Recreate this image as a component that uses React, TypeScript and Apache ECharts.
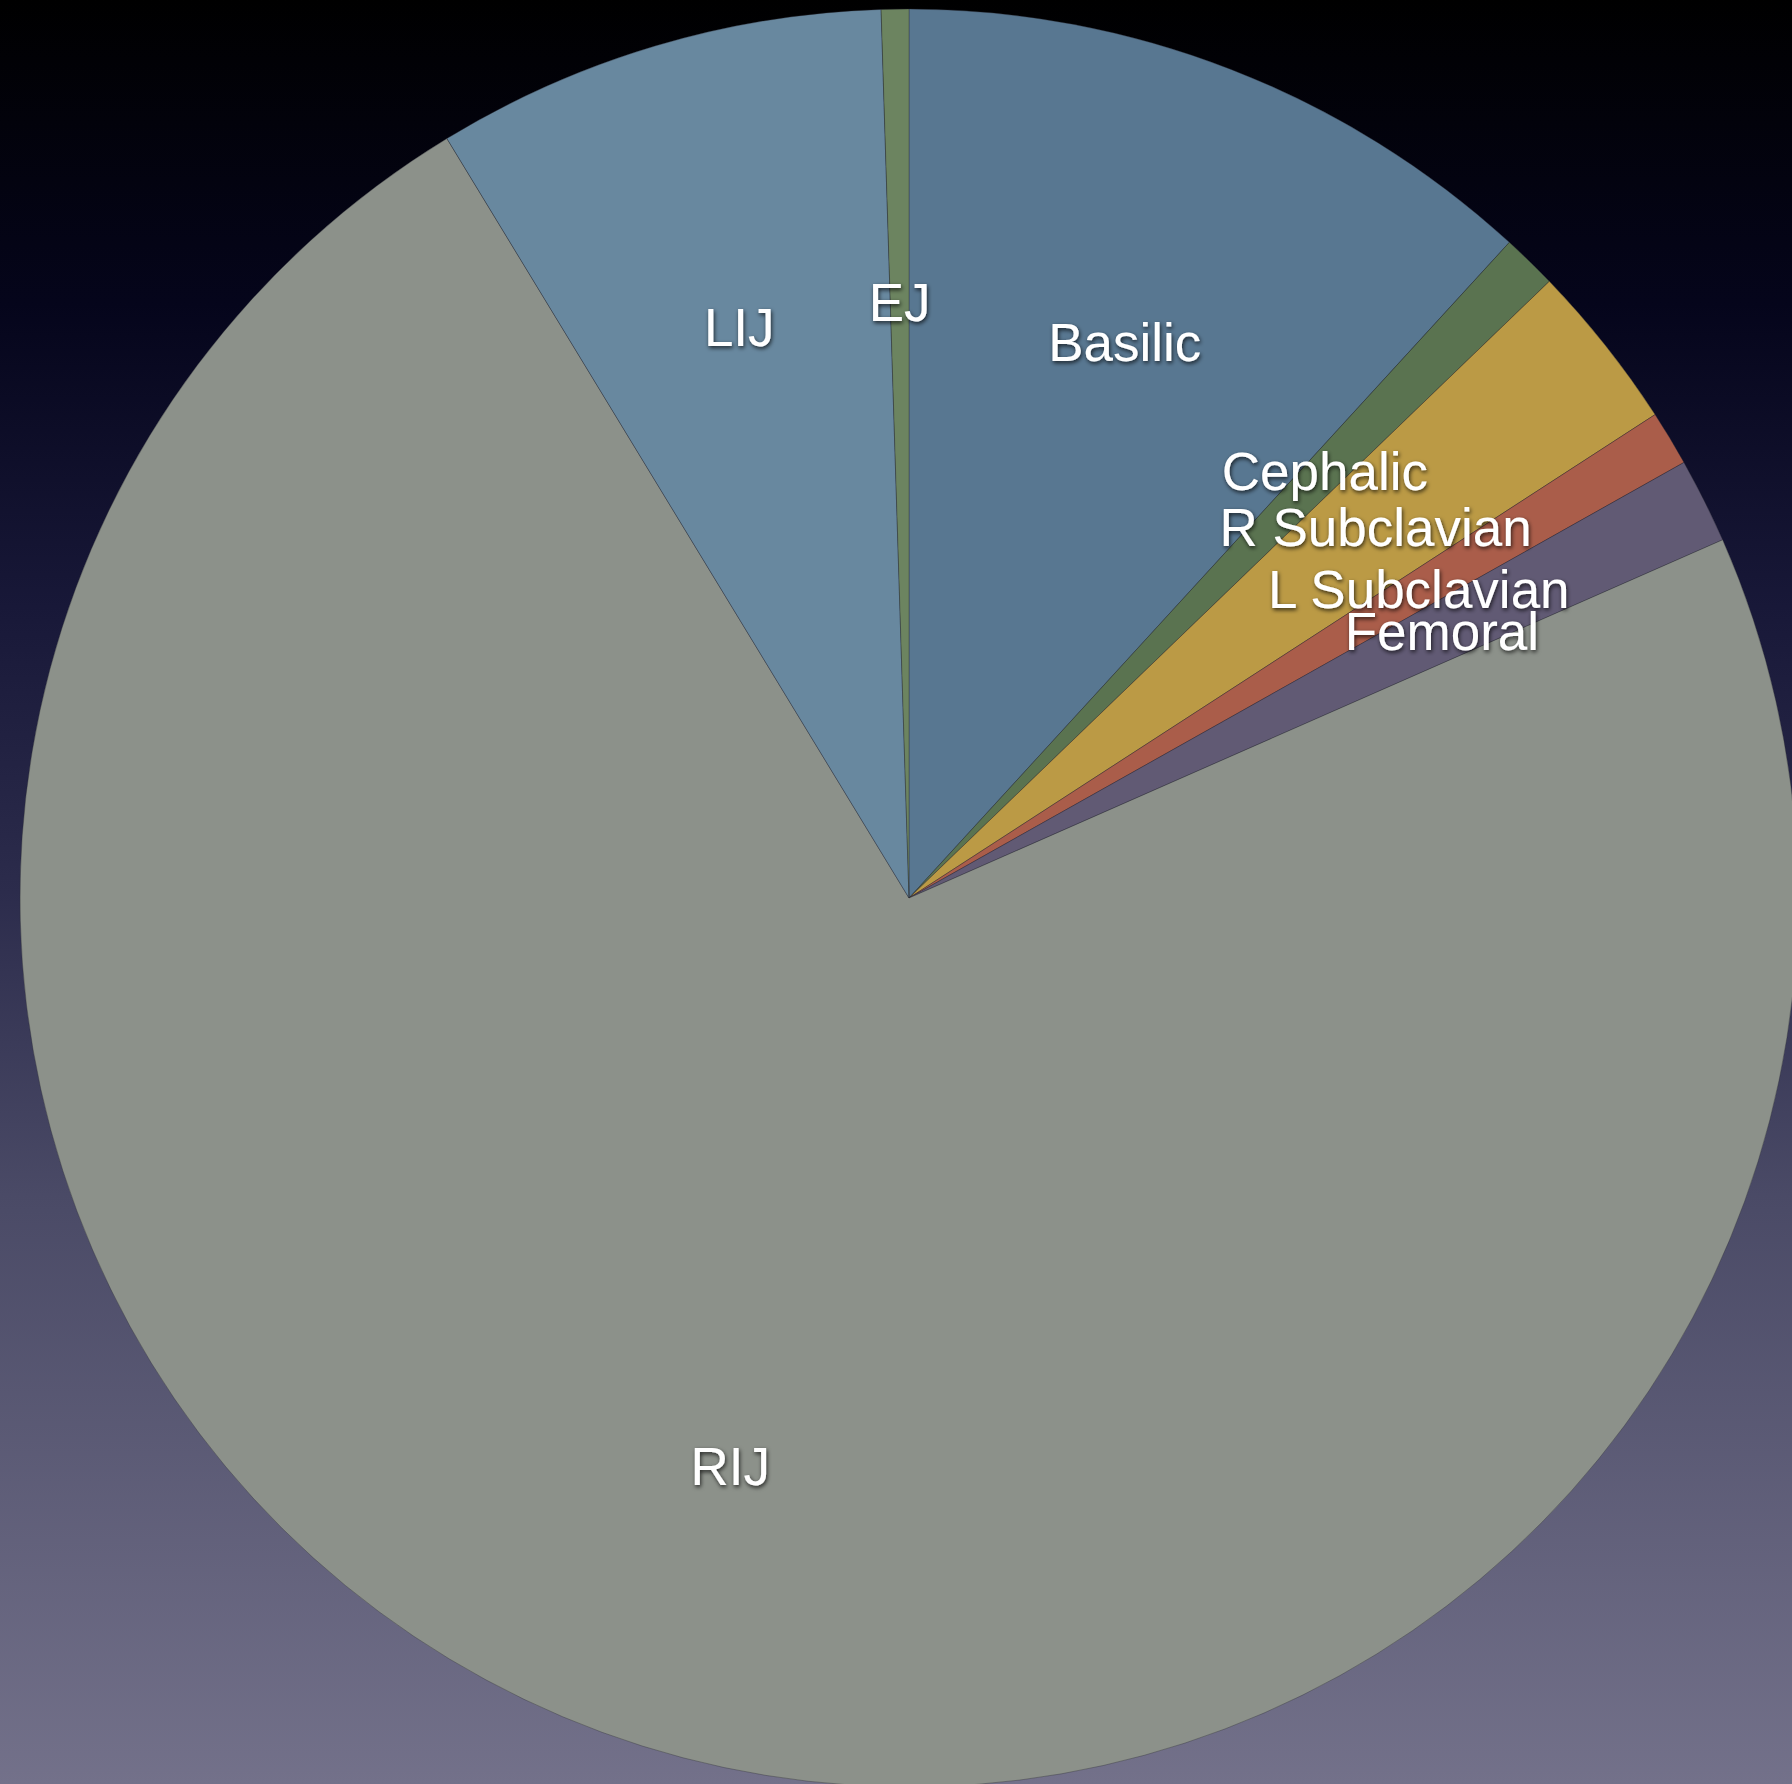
import React, { useEffect, useRef } from "react";
import * as echarts from "echarts";

// Catheter insertion sites (% of lines), clockwise from 12 o'clock
const sites = ["Basilic", "Cephalic", "R Subclavian", "L Subclavian", "Femoral", "RIJ", "LIJ", "EJ"];
const shares = [11.8, 1.0, 3.05, 1.0, 1.55, 72.9, 8.2, 0.5];
const sliceColors = ["#587791", "#5a7350", "#bb9a45", "#aa5d4a", "#615a74", "#8c918a", "#68889f", "#6c8460"];

const W = 1792;
const H = 1784;
const CX = 909;
const CY = 898;
const R = 889;

export default function App() {
  const ref = useRef<HTMLDivElement>(null);

  useEffect(() => {
    if (!ref.current) return;
    const chart = echarts.init(ref.current, undefined, { renderer: "svg" });

    const slices = sites.map((name, i) => ({
      name,
      value: shares[i],
      itemStyle: { color: sliceColors[i] },
    }));
    const labelRing = sites.map((name, i) => ({ name, value: shares[i] }));

    chart.setOption({
      animation: false,
      backgroundColor: {
        type: "linear",
        x: 0,
        y: 0,
        x2: 0,
        y2: 1,
        colorStops: [
          { offset: 0, color: "#000000" },
          { offset: 0.17, color: "#05051b" },
          { offset: 0.34, color: "#181838" },
          { offset: 0.5, color: "#2c2c4c" },
          { offset: 0.67, color: "#4a4a66" },
          { offset: 1, color: "#73718a" },
        ],
      },
      series: [
        {
          type: "pie",
          center: [CX, CY],
          radius: [0, R],
          startAngle: 90,
          clockwise: true,
          silent: true,
          label: { show: false },
          labelLine: { show: false },
          itemStyle: { borderColor: "rgba(40,40,50,0.35)", borderWidth: 1 },
          data: slices,
        },
        {
          // transparent ring whose mid-radius carries the slice names
          type: "pie",
          center: [CX, CY],
          radius: [R / 3, R],
          startAngle: 90,
          clockwise: true,
          silent: true,
          itemStyle: { color: "transparent", borderWidth: 0 },
          labelLine: { show: false },
          label: {
            show: true,
            position: "inside",
            formatter: "{b}",
            color: "#ffffff",
            fontFamily: "Liberation Sans, Helvetica, Arial, sans-serif",
            fontSize: 53,
            textShadowColor: "rgba(0,0,0,0.75)",
            textShadowBlur: 4,
            textShadowOffsetX: 1,
            textShadowOffsetY: 2,
          },
          labelLayout: { hideOverlap: false },
          data: labelRing,
        },
      ],
    });

    return () => chart.dispose();
  }, []);

  return (
    <div
      ref={ref}
      style={{ position: "fixed", left: 0, top: 0, width: W, height: H }}
    />
  );
}
